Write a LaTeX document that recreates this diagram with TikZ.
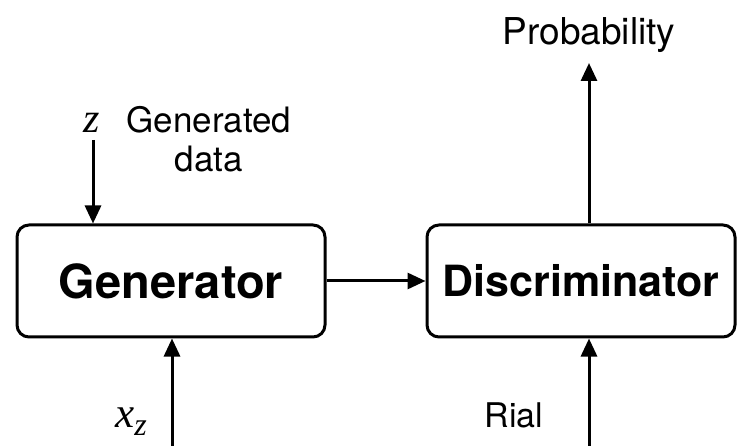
\documentclass[tikz,border=0pt]{standalone}
\usepackage{fontspec}
\setmainfont{TeX Gyre Heros}
\newfontfamily\symfont{Liberation Serif}
\usetikzlibrary{arrows.meta}
\begin{document}
\begin{tikzpicture}[x=1pt,y=-1pt,
  block/.style={draw, line width=3pt, rounded corners=12pt,
    minimum width=308pt, minimum height=112pt, inner sep=0pt},
  flow/.style={line width=3pt, -{Triangle[length=18pt,width=16pt]}},
  lbl/.style={anchor=base, inner sep=0pt}]
\useasboundingbox (0,0) rectangle (739,446);

% the two networks
\node[block, font=\fontsize{47}{54}\selectfont\bfseries] (gen) at (171,281) {Generator};
\node[block, font=\fontsize{43}{52}\selectfont\bfseries] (disc) at (581,281) {Discriminator};

% labels
\node[lbl, font=\fontsize{37}{44}\selectfont] (prob) at (589,45) {Probability};
\node[lbl, font=\fontsize{35}{40}\selectfont] (gen1) at (209,133) {Generated};
\node[lbl, font=\fontsize{35}{40}\selectfont] (gen2) at (209,172) {data};
\node[lbl, font=\fontsize{42}{48}\selectfont\symfont\itshape] (zl) at (92,133) {z};
\node[lbl, anchor=base west, font=\fontsize{43}{48}\selectfont\symfont\itshape] (xz) at (115,427)
  {x\raisebox{-8pt}{\fontsize{32}{36}\selectfont z}};
\node[lbl, font=\fontsize{34}{40}\selectfont] (rial) at (514,427) {Rial};

% connector end points
\coordinate (zin) at (93,140);
\coordinate (xin) at (172,446);
\coordinate (pout) at (589,63);
\coordinate (rin) at (589,446);

% connectors
\draw[flow] (zin) -- (zin |- gen.north);
\draw[flow] (xin) -- (xin |- gen.south);
\draw[flow] (gen.east) -- (disc.west);
\draw[flow] (pout |- disc.north) -- (pout);
\draw[flow] (rin) -- (rin |- disc.south);
\end{tikzpicture}
\end{document}
